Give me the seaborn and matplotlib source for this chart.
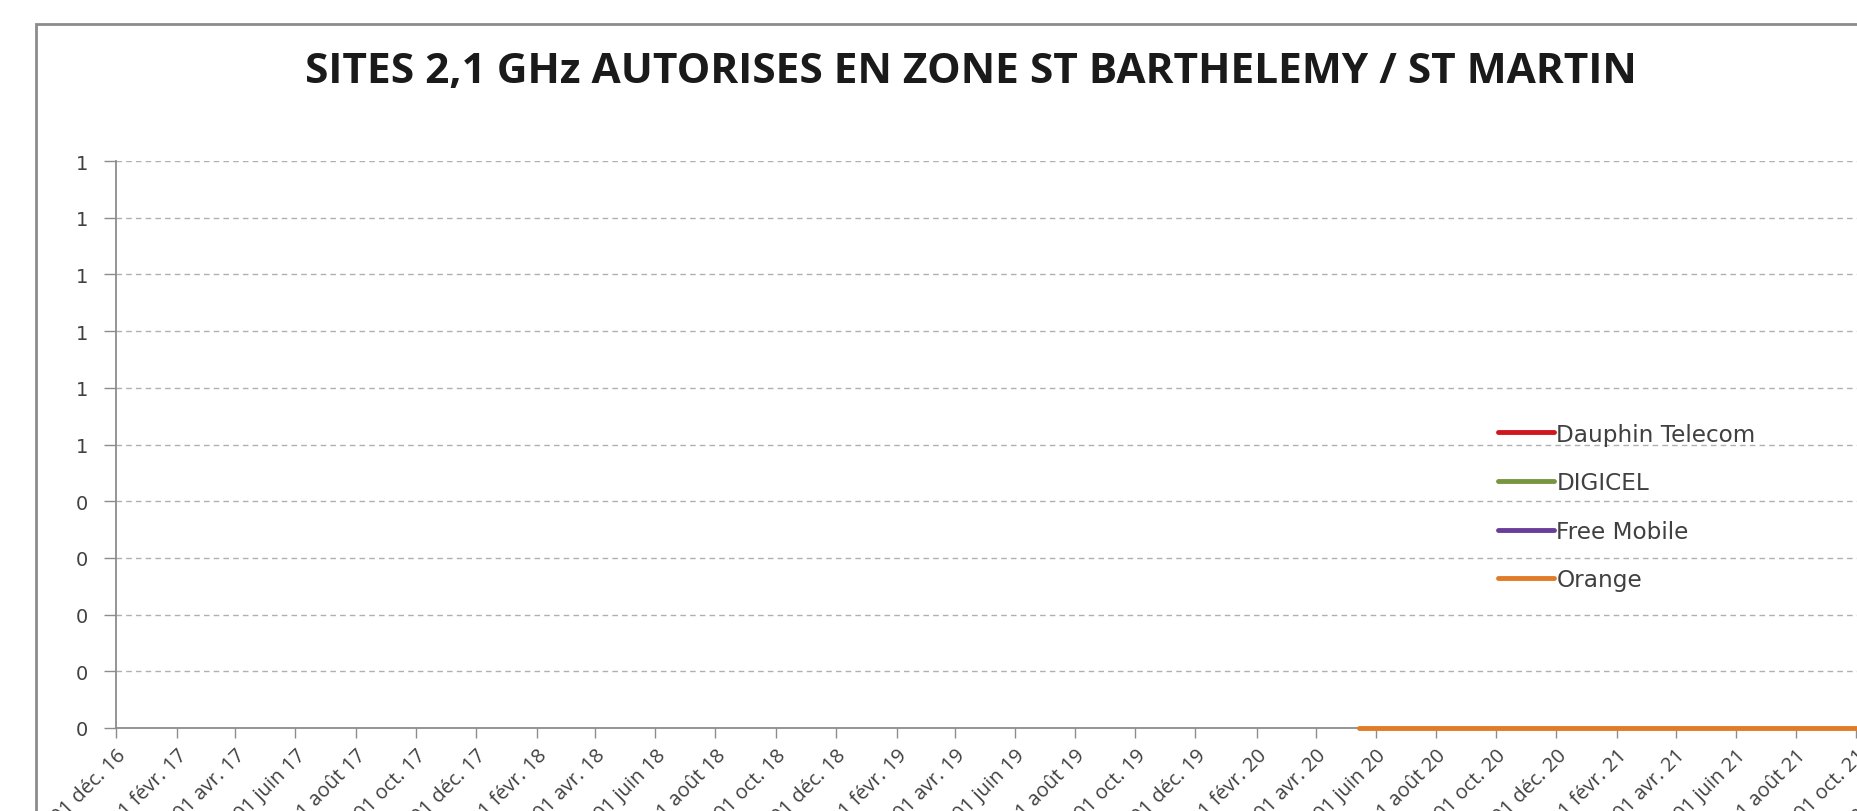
import matplotlib
matplotlib.use("Agg")
import matplotlib.pyplot as plt
from matplotlib.patches import Rectangle
import seaborn as sns
import pandas as pd

# Data
title = "SITES 2,1 GHz AUTORISES EN ZONE ST BARTHELEMY / ST MARTIN"
operators = ["Dauphin Telecom", "DIGICEL", "Free Mobile", "Orange"]
colors = ["#D0161E", "#77963F", "#6A3D9A", "#E07B28"]

orange_dates = ["2020-05-15", "2020-08-01", "2020-11-01", "2021-02-01",
                "2021-05-01", "2021-08-01", "2021-11-01", "2021-12-31"]
orange_sites = [0, 0, 0, 0, 0, 0, 0, 0]

month_names = ["janv.", "févr.", "mars", "avr.", "mai", "juin",
               "juil.", "août", "sept.", "oct.", "nov.", "déc."]
y_ticks = [0, 0.1, 0.2, 0.3, 0.4, 0.5, 0.6, 0.7, 0.8, 0.9, 1.0]
y_tick_labels = ["0", "0", "0", "0", "0", "1", "1", "1", "1", "1", "1"]

df = pd.DataFrame({
    "date": pd.to_datetime(orange_dates),
    "sites": orange_sites,
    "operateur": "Orange",
})

sns.set_theme(style="white")
plt.rcParams["font.family"] = ["Open Sans", "DejaVu Sans"]

fig = plt.figure(figsize=(18.58, 8.12), dpi=100)

# chart frame (continues past the right/bottom edge like the crop)
fig.patches.append(Rectangle((36 / 1858, -0.1), 1.2, 1 - 25 / 812 + 0.1,
                             transform=fig.transFigure, fill=False,
                             edgecolor="#8c8c8c", linewidth=2))

x0 = pd.Timestamp("2016-12-01")
x1 = pd.Timestamp("2021-12-31")
px_per_day = 1740 / (pd.Timestamp("2021-10-01") - x0).days
width_px = (x1 - x0).days * px_per_day
ax = fig.add_axes([116 / 1858, 1 - 729 / 812, width_px / 1858, (729 - 162) / 812])

sns.lineplot(data=df, x="date", y="sites", hue="operateur",
             hue_order=operators, palette=dict(zip(operators, colors)),
             linewidth=3.5, ax=ax, clip_on=False, zorder=5)

ax.set_xlim(x0, x1)
ax.set_ylim(0, 1)

ax.tick_params(axis="x", direction="out", length=7, width=1, color="#8c8c8c",
               bottom=True, pad=5)
ax.tick_params(axis="y", direction="out", length=9, width=1, color="#8c8c8c",
               left=True, pad=11)

ax.set_yticks(y_ticks)
ax.set_yticklabels(y_tick_labels, fontsize=14, family="DejaVu Sans", color="#404040")

# two-monthly date ticks, French short month names
tick_dates = pd.date_range("2016-12-01", "2021-12-01", freq="2MS")
tick_labels = ["01 %s %02d" % (month_names[d.month - 1], d.year % 100) for d in tick_dates]
ax.set_xticks(tick_dates)
ax.set_xticklabels(tick_labels, rotation=45, ha="right", va="top",
                   rotation_mode="anchor", fontsize=14.5, color="#404040")

ax.grid(axis="y", linestyle=(0, (4, 3)), color="#b0b0b0", linewidth=1)
ax.set_axisbelow(True)
for side in ["top", "right"]:
    ax.spines[side].set_visible(False)
for side in ["left", "bottom"]:
    ax.spines[side].set_color("#8c8c8c")
    ax.spines[side].set_linewidth(1.3)
ax.set_xlabel("")
ax.set_ylabel("")

leg = ax.legend(loc="upper left", bbox_to_anchor=(1486 / 1858, 1 - 412 / 812),
                bbox_transform=fig.transFigure, frameon=False,
                prop={"family": "DejaVu Sans", "size": 16.7},
                handlelength=2.43, handletextpad=0.1, labelspacing=1.1,
                borderpad=0)
for t in leg.get_texts():
    t.set_color("#404040")
for h in leg.get_lines():
    h.set_linewidth(3.5)

fig.text(971 / 1858, 1 - 72.5 / 812, title, ha="center", va="center",
         fontsize=30.5, fontweight="bold", color="#1a1a1a")

fig.savefig("out.png", dpi=100)
